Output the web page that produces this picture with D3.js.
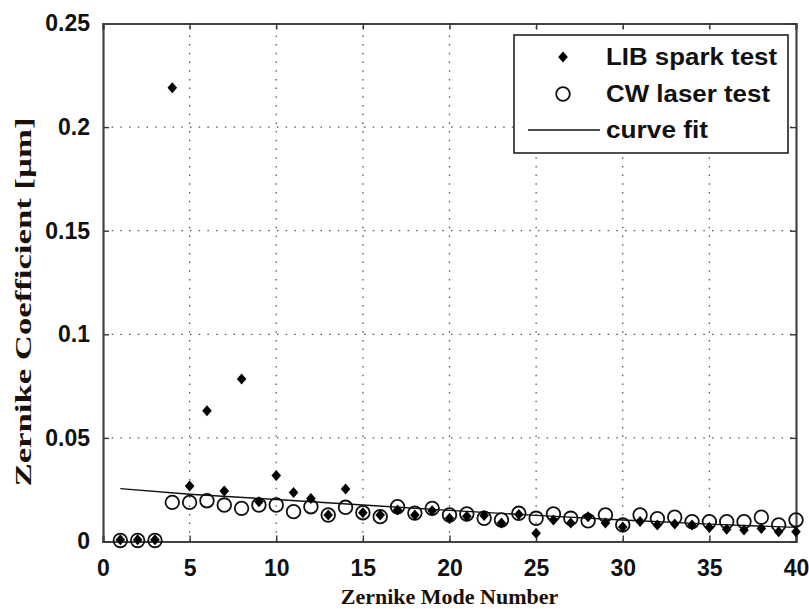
<!DOCTYPE html>
<html>
<head>
<meta charset="utf-8">
<script src="https://cdn.jsdelivr.net/npm/d3@7"></script>
<style>
	body{margin:0;background:#fff;}
	svg{display:block;}
</style>
</head>
<body>
<div id="chart"></div>
<script>
var modes=d3.range(1,41);

var libSpark=[0.0008,0.0008,0.0008,0.219,0.0268,0.0631,0.0244,0.0784,0.0192,0.0318,
	0.0236,0.0208,0.0128,0.0253,0.0139,0.0128,0.0152,0.0128,0.0148,0.0112,
	0.0122,0.0125,0.0089,0.013,0.004,0.0104,0.0089,0.012,0.0089,0.007,
	0.0096,0.008,0.0085,0.008,0.0068,0.0059,0.0056,0.0063,0.0047,0.0047];

var cwLaser=[0.0005,0.0005,0.0005,0.0189,0.0189,0.0197,0.0176,0.016,0.0176,0.0176,
	0.0144,0.0168,0.0128,0.0165,0.0139,0.012,0.0168,0.0137,0.016,0.0128,
	0.0133,0.0112,0.0104,0.0136,0.0112,0.0133,0.0112,0.01,0.0128,0.008,
	0.0128,0.011,0.0117,0.0096,0.0096,0.0096,0.0096,0.0117,0.008,0.0104];

var fitModes=[1,5,10,15,20,25,30,35,40],
	fitValues=[0.0255,0.0228,0.0203,0.0176,0.015,0.0126,0.0104,0.0084,0.0068];

var xTicks=[0,5,10,15,20,25,30,35,40],
	yTicks=[0,0.05,0.1,0.15,0.2,0.25];

var legendLabels=["LIB spark test","CW laser test","curve fit"],
	legendWidths=[171,164,102];

var WIDTH=809,
	HEIGHT=609;

var x=d3.scaleLinear().domain([0,40]).range([103,796]),
	y=d3.scaleLinear().domain([0,0.25]).range([541.5,23.5]);

var svg=d3.select("#chart")
			.append("svg")
				.attr("width",WIDTH)
				.attr("height",HEIGHT);

// dotted grid
var grid=svg.append("g")
			.attr("stroke","#555")
			.attr("stroke-width",1.3)
			.attr("stroke-dasharray","1.5,7.2");

grid.selectAll("line.gx")
	.data(xTicks.slice(1,-1))
	.enter()
		.append("line")
			.attr("class","gx")
			.attr("x1",function(d){return x(d);})
			.attr("x2",function(d){return x(d);})
			.attr("y1",y(0))
			.attr("y2",y(0.25));

grid.selectAll("line.gy")
	.data(yTicks.slice(1,-1))
	.enter()
		.append("line")
			.attr("class","gy")
			.attr("x1",x(0))
			.attr("x2",x(40))
			.attr("y1",function(d){return y(d);})
			.attr("y2",function(d){return y(d);});

// axes (bottom/left with labels, top/right ticks only)
var tickFont="'Liberation Sans',Arial,sans-serif";

var xAxis=svg.append("g")
	.attr("transform","translate(0,"+y(0)+")")
	.call(d3.axisBottom(x).tickValues(xTicks).tickSize(-6).tickPadding(15).tickFormat(d3.format("d")));

var yAxis=svg.append("g")
	.attr("transform","translate("+x(0)+",0)")
	.call(d3.axisLeft(y).tickValues(yTicks).tickSize(-6).tickPadding(13).tickFormat(function(d){return d===0?"0":d3.format("")(d);}));

svg.append("g")
	.attr("transform","translate(0,"+y(0.25)+")")
	.call(d3.axisTop(x).tickValues(xTicks).tickSize(-6).tickFormat(""));

svg.append("g")
	.attr("transform","translate("+x(40)+",0)")
	.call(d3.axisRight(y).tickValues(yTicks).tickSize(-6).tickFormat(""));

svg.selectAll(".domain")
	.attr("stroke","#444")
	.attr("stroke-width",2.2);
svg.selectAll(".tick line")
	.attr("stroke","#333")
	.attr("stroke-width",1.4);

svg.selectAll(".tick text")
	.attr("font-family",tickFont)
	.attr("font-weight","bold")
	.attr("font-size",23)
	.attr("fill","#111");

xAxis.selectAll(".tick text").attr("dy","0.85em");

// curve fit
var line=d3.line()
	.x(function(d){return x(d[0]);})
	.y(function(d){return y(d[1]);});

svg.append("path")
	.datum(fitModes.map(function(m,i){return [m,fitValues[i]];}))
	.attr("d",line)
	.attr("fill","none")
	.attr("stroke","#111")
	.attr("stroke-width",1.4);

// CW laser circles
svg.append("g")
	.selectAll("circle")
	.data(modes)
	.enter()
		.append("circle")
			.attr("cx",function(d){return x(d);})
			.attr("cy",function(d,i){return y(cwLaser[i]);})
			.attr("r",6.8)
			.attr("fill","none")
			.attr("stroke","#111")
			.attr("stroke-width",1.8);

// LIB spark markers
var diamond="M0,-5.5L4.8,0L0,5.5L-4.8,0Z";

svg.append("g")
	.selectAll("path")
	.data(modes)
	.enter()
		.append("path")
			.attr("d",diamond)
			.attr("transform",function(d,i){return "translate("+x(d)+","+y(libSpark[i])+")";})
			.attr("fill","#000");

// legend
var legend=svg.append("g");

legend.append("rect")
	.attr("x",514)
	.attr("y",35)
	.attr("width",274)
	.attr("height",118)
	.attr("fill","#fff")
	.attr("stroke","#222")
	.attr("stroke-width",1.6);

var rowY=[57,94,130];

legend.append("path")
	.attr("d",diamond)
	.attr("transform","translate(563,"+rowY[0]+")")
	.attr("fill","#000");

legend.append("circle")
	.attr("cx",563)
	.attr("cy",rowY[1])
	.attr("r",6.8)
	.attr("fill","none")
	.attr("stroke","#111")
	.attr("stroke-width",1.8);

legend.append("line")
	.attr("x1",528)
	.attr("x2",600)
	.attr("y1",rowY[2])
	.attr("y2",rowY[2])
	.attr("stroke","#111")
	.attr("stroke-width",1.4);

legend.selectAll("text")
	.data(legendLabels)
	.enter()
		.append("text")
			.attr("x",606)
			.attr("y",function(d,i){return rowY[i]+8;})
			.attr("font-family",tickFont)
			.attr("font-weight","bold")
			.attr("font-size",23)
			.attr("textLength",function(d,i){return legendWidths[i];})
			.attr("lengthAdjust","spacingAndGlyphs")
			.attr("fill","#111")
			.text(function(d){return d;});

// axis titles
var titleFont="'Liberation Serif','Times New Roman',serif";

svg.append("text")
	.attr("x",(x(0)+x(40))/2)
	.attr("y",604)
	.attr("text-anchor","middle")
	.attr("font-family",titleFont)
	.attr("font-weight","bold")
	.attr("font-size",22)
	.attr("fill","#1a1008")
	.text("Zernike Mode Number");

svg.append("text")
	.attr("transform","translate(31,302) rotate(-90)")
	.attr("text-anchor","middle")
	.attr("font-family",titleFont)
	.attr("font-weight","bold")
	.attr("font-size",23)
	.attr("textLength",369)
	.attr("lengthAdjust","spacingAndGlyphs")
	.attr("fill","#1a1008")
	.text("Zernike Coefficient [\u00b5m]");
</script>
</body>
</html>
